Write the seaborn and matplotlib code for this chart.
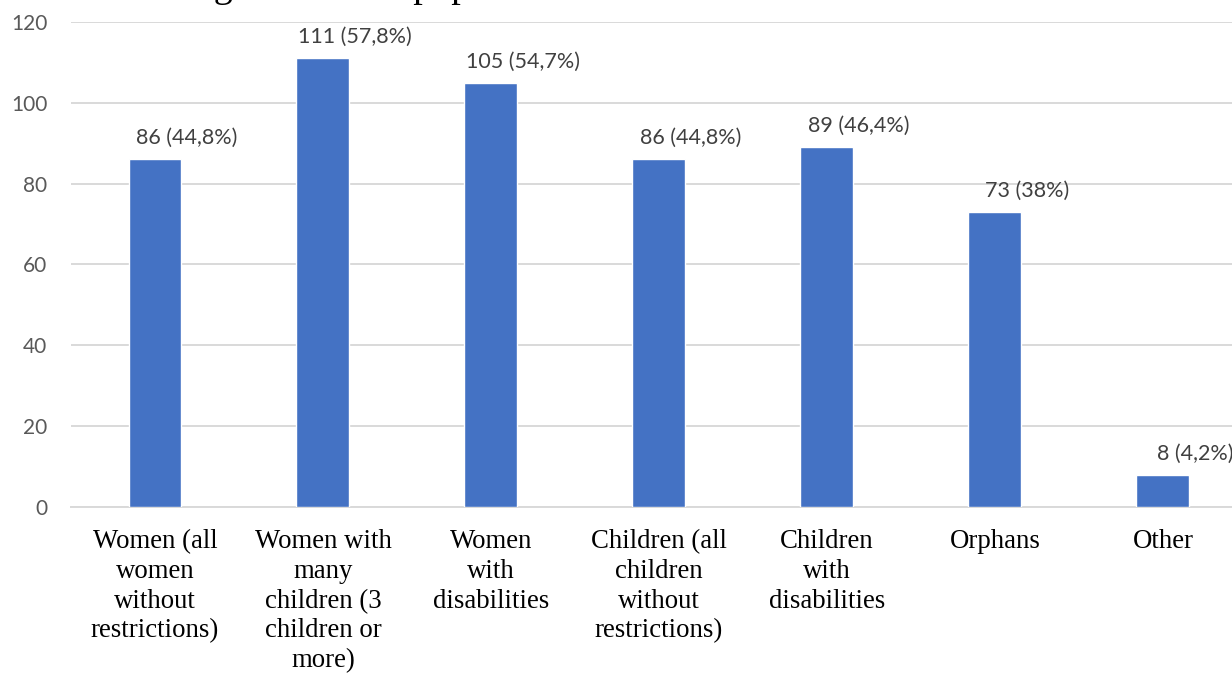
import matplotlib
matplotlib.use("Agg")
import matplotlib.pyplot as plt
import seaborn as sns
import pandas as pd

# Beneficiary groups and counts (share of respondents in brackets)
categories = [
    "Women (all\nwomen\nwithout\nrestrictions)",
    "Women with\nmany\nchildren (3\nchildren or\nmore)",
    "Women\nwith\ndisabilities",
    "Children (all\nchildren\nwithout\nrestrictions)",
    "Children\nwith\ndisabilities",
    "Orphans",
    "Other",
]
counts = [86, 111, 105, 86, 89, 73, 8]
shares = ["44,8%", "57,8%", "54,7%", "44,8%", "46,4%", "38%", "4,2%"]
yticks = [0, 20, 40, 60, 80, 100, 120]

title_text = "Categories of the population"

BAR_COLOR = "#4472C4"
GRID_COLOR = "#d9d9d9"

sns.set_theme(style="white")

df = pd.DataFrame({"category": categories, "count": counts})

fig = plt.figure(figsize=(12.32, 6.74), dpi=100)
ax = fig.add_axes([0.0576, 0.2478, 0.9545, 0.7196])

sns.barplot(data=df, x="category", y="count", color=BAR_COLOR,
            saturation=1, width=0.315, ax=ax, zorder=3)

ax.set_xlim(-0.5, 6.5)
ax.set_ylim(0, 120)
ax.set_yticks(yticks)
ax.set_xlabel("")
ax.set_ylabel("")

ax.set_axisbelow(True)
ax.yaxis.grid(True, color=GRID_COLOR, linewidth=1.4)
ax.xaxis.grid(False)
for side in ("left", "right", "top"):
    ax.spines[side].set_visible(False)
ax.spines["bottom"].set_color(GRID_COLOR)
ax.spines["bottom"].set_linewidth(1.4)

ax.tick_params(axis="y", length=0, pad=17, labelsize=15, labelcolor="#595959")
ax.tick_params(axis="x", length=0, pad=16)
for lbl in ax.get_yticklabels():
    lbl.set_fontfamily("Lato")
for lbl in ax.get_xticklabels():
    lbl.set_fontfamily("Liberation Serif")
    lbl.set_fontsize(19.3)
    lbl.set_color("black")
    lbl.set_linespacing(1.25)
    lbl.set_verticalalignment("top")

# value labels above each bar
for i, (v, s) in enumerate(zip(counts, shares)):
    ax.annotate(f"{v} ({s})", xy=(i + 0.19, v), xytext=(0, 8),
                textcoords="offset points", ha="center", va="bottom",
                fontsize=15.5, fontfamily="Lato", color="#404040")

fig.text(144 / 1232, 1.0 + 3 / 674, title_text, ha="left", va="baseline",
         fontsize=27.4, fontfamily="Liberation Serif", color="black")

fig.savefig("out.png", dpi=100)
